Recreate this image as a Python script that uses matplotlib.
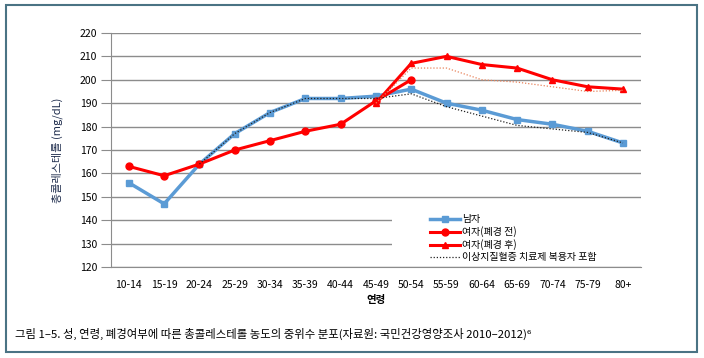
import matplotlib
matplotlib.use("Agg")
import matplotlib.pyplot as plt
from matplotlib.patches import Rectangle

plt.rcParams['font.family'] = ['Noto Sans CJK KR', 'DejaVu Sans']

ages = ["10-14", "15-19", "20-24", "25-29", "30-34", "35-39", "40-44", "45-49",
        "50-54", "55-59", "60-64", "65-69", "70-74", "75-79", "80+"]

male = [156, 147, 164, 177, 186, 192, 192, 193, 196, 190, 187, 183, 181, 178, 173]
# including dyslipidemia medication users (adults, from 20-24)
male_all = [164, 177, 186, 192, 192, 192, 194, 188.5, 184.5, 180.5, 179, 177.5, 173]

female_pre = [163, 159, 164, 170, 174, 178, 181, 191, 200]
female_post = [190, 207, 210, 206.5, 205, 200, 197, 196]
female_post_all = [190, 205, 205, 200, 199, 197, 195, 195.5]

yticks = list(range(120, 221, 10))

fig = plt.figure(figsize=(7.04, 3.58), dpi=100)
ax = fig.add_axes([0.158, 0.254, 0.752, 0.654])

x = list(range(len(ages)))
xp = x[:len(female_pre)]
xq = x[7:]
xm = x[2:]

blue = "#5b9bd5"
red = "#ff0000"

ax.plot(x, male, color=blue, lw=2.5, marker="s", ms=5, zorder=3, label="남자")
ax.plot(xp, female_pre, color=red, lw=2.2, marker="o", ms=5, zorder=4, label="여자(폐경 전)")
ax.plot(xq, female_post, color=red, lw=2.2, marker="^", ms=5, zorder=4, label="여자(폐경 후)")
ax.plot(xm, male_all, color="#222222", lw=0.9, ls=(0, (1, 1.5)), zorder=5,
        label="이상지질혈증 치료제 복용자 포함")
ax.plot(xq, female_post_all, color="#e8825a", lw=0.9, ls=(0, (1, 1.5)), zorder=5)

ax.set_ylim(120, 220)
ax.set_yticks(yticks)
ax.set_xlim(-0.5, len(ages) - 0.5)
ax.set_xticks(x)
ax.set_xticklabels(ages)
ax.grid(axis="y", color="#8c8c8c", lw=1)
ax.set_axisbelow(True)
for s in ["top", "right"]:
    ax.spines[s].set_visible(False)
ax.spines["left"].set_color("#8c8c8c")
ax.spines["bottom"].set_color("#8c8c8c")
ax.tick_params(axis="y", length=7, color="#8c8c8c", labelsize=7.5, pad=3)
ax.tick_params(axis="x", length=0, labelsize=7.5, pad=9)

ax.set_ylabel("총콜레스테롤 (mg/dL)", fontsize=8, color="#1f2d4d", labelpad=12)
ax.set_xlabel("연령", fontsize=7.5, fontweight="bold", labelpad=4)

# white box behind legend
ax.add_patch(Rectangle((0.530, 0.02), 0.47, 0.24, transform=ax.transAxes,
                       facecolor="white", edgecolor="none", zorder=1))
ax.legend(loc="upper left", bbox_to_anchor=(0.602, 0.225), frameon=False,
          fontsize=7.2, handlelength=3.0, handletextpad=0.2, labelspacing=0.2,
          borderpad=0, borderaxespad=0)

fig.text(0.022, 0.067,
         "그림 1–5. 성, 연령, 폐경여부에 따른 총콜레스테롤 농도의 중위수 분포(자료원: 국민건강영양조사 2010–2012)⁶",
         fontsize=8.2, ha="left", va="center")

fig.patches.append(Rectangle((0.008, 0.018), 0.982, 0.967, transform=fig.transFigure,
                             facecolor="none", edgecolor="#4a7384", lw=1.5))

fig.savefig("out.png", dpi=100)
